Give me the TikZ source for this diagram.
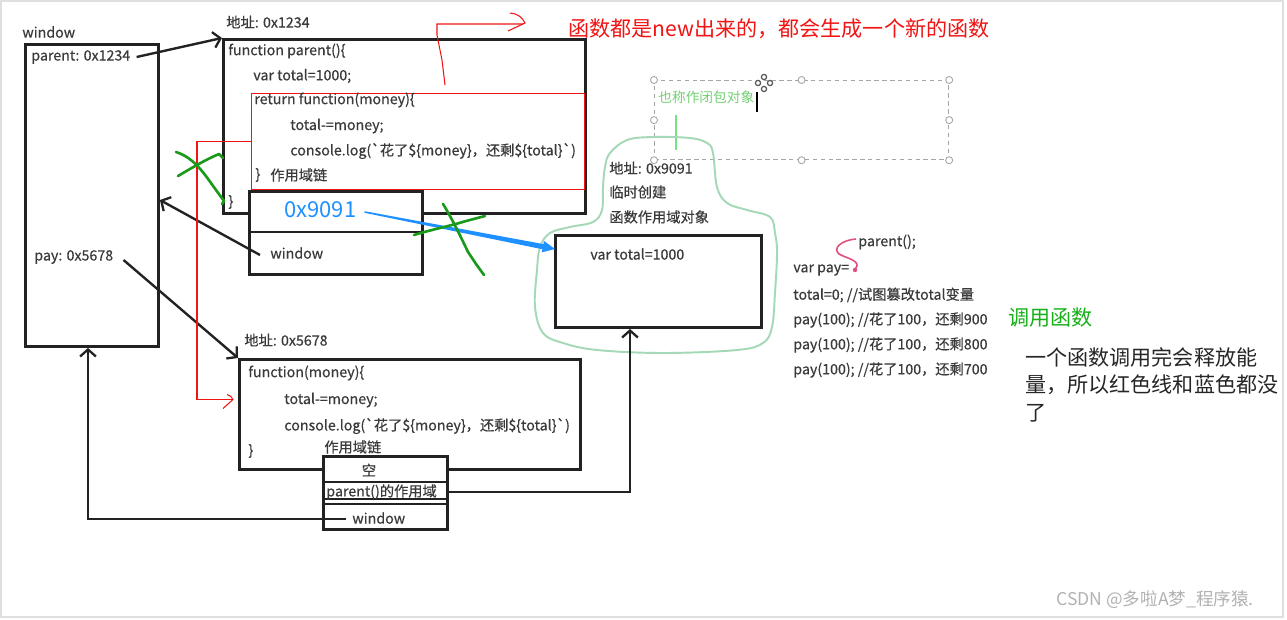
\documentclass[tikz,border=0pt]{standalone}
\usepackage{fontspec}
\newfontfamily\cjk{Noto Sans CJK SC}
\newfontfamily\cjkcode{Noto Sans CJK SC}[FakeBold=0.4]
\usetikzlibrary{arrows.meta,calc}
\definecolor{txtc}{HTML}{3A3A3A}
\definecolor{linec}{HTML}{222222}
\definecolor{redc}{HTML}{F01414}
\definecolor{bluec}{HTML}{1E90FF}
\definecolor{xgreen}{HTML}{1A9A1A}
\definecolor{lgreen}{HTML}{A4D8B6}
\definecolor{ggreen}{HTML}{18B018}
\definecolor{pinkc}{HTML}{E0507A}
\begin{document}
\begin{tikzpicture}[x=0.02cm,y=-0.02cm,
 code/.style={anchor=west,inner sep=0,text=txtc,font=\cjkcode\fontsize{8.1}{9}\selectfont},
 big/.style={anchor=west,inner sep=0,font=\cjk\fontsize{12}{14}\selectfont},
 box/.style={draw=linec,line width=1.7pt,anchor=north west,inner sep=0,fill=white},
 divider/.style={draw=linec,line width=1.6pt},
 conn/.style={draw=linec,line width=1.35pt},
 barb/.style={-{Straight Barb[length=4pt,width=9pt,line width=1.3pt]}},
 redl/.style={draw=redc,line width=0.6pt},
 xmark/.style={draw=xgreen,line width=1.5pt,line cap=round,line join=round},
 handle/.style={circle,draw=gray!70,fill=white,inner sep=0,minimum size=4pt,line width=0.5pt}
]
\useasboundingbox (0,0) rectangle (1287,619);
\fill[white] (0,0) rectangle (1287,619);
\draw[gray!25,line width=1pt] (1,1) rectangle (1283,617);

% ---------- selection rectangle ----------
\node[draw=gray!70,line width=0.7pt,dash pattern=on 2.5pt off 2pt,anchor=north west,inner sep=0,
      minimum width=5.88cm,minimum height=1.58cm] (sel) at (654,80) {};
\foreach \a in {north west,north,north east,west,east,south west,south,south east}
  \node[handle] at (sel.\a) {};
\node[anchor=west,inner sep=0,text=ggreen!60,font=\cjk\fontsize{7.8}{9}\selectfont] (alias) at (658,97) {也称作闭包对象};
\coordinate (mv) at (764,83);
\foreach \dx/\dy in {0/-6,6/0,0/6,-6/0}
  \draw[black!65,line width=0.7pt] ($(mv)+(\dx,\dy)$) circle (2.6);
\draw[black,line width=0.8pt] (757,92) -- (757,112);
\draw[lgreen!70!green,line width=0.9pt] (676,115) -- (676,150);

% ---------- cloud ----------
\draw[lgreen,line width=1.1pt] plot[smooth cycle,tension=0.6] coordinates {
 (610,153) (627,140) (653,137) (690,138) (707,143) (713,153) (717,187) (727,203)
 (747,210) (770,217) (775,233) (777,253) (775,293) (772,327) (763,343) (737,350)
 (663,353) (597,350) (563,343) (543,333) (535,307) (537,270) (540,247) (550,233)
 (570,227) (593,222) (602,210) (603,187) (605,167)};

% ---------- boxes ----------
\node[box,minimum width=2.66cm,minimum height=6.04cm] (win) at (24,43) {};
\node[box,minimum width=7.24cm,minimum height=3.48cm] (fpar) at (222,38) {};
\node[box,draw=redc,line width=0.7pt,fill=none,minimum width=6.66cm,minimum height=1.92cm] (redbox) at (251,93) {};
\node[box,minimum width=3.46cm,minimum height=1.66cm] (sc1) at (248,190) {};
\draw[divider] (sc1.west |- 0,232) -- (sc1.east |- 0,232);
\node[box,minimum width=6.82cm,minimum height=2.2cm] (fbot) at (238,358) {};
\node[box,minimum width=2.48cm,minimum height=1.46cm] (sc2) at (322,455) {};
\draw[divider] (sc2.west |- 0,482) -- (sc2.east |- 0,482);
\draw[divider,line width=0.7pt] (sc2.west |- 0,499) -- (sc2.east |- 0,499);
\draw[divider,line width=1.2pt] (sc2.west |- 0,504) -- (sc2.east |- 0,504);
\node[box,minimum width=4.12cm,minimum height=1.84cm] (varbox) at (554,234) {};

% ---------- texts ----------
\node[code] (winlbl) at (22,32) {window};
\node[code] (parlbl) at (31,57) {parent: 0x1234};
\node[code] (paylbl) at (34,257) {pay: 0x5678};

\node[code] (a1) at (226,22) {地址: 0x1234};
\node[code] (p1) at (228,51) {function parent()\{};
\node[code] (p2) at (253,76) {var total=1000;};
\node[code] (p3) at (254,100) {return function(money)\{};
\node[code] (p4) at (290,126) {total-=money;};
\node[code] (p5) at (290,151) {console.log(`花了\$\{money\}，还剩\$\{total\}`)};
\node[code] (p6) at (255,175) {\}};
\node[code] (p6b) at (270,175) {作用域链};
\node[code] (p7) at (228,202) {\}};

\node[anchor=west,inner sep=0,text=bluec,font=\cjk\fontsize{12.5}{14}\selectfont] (addr) at (284,210) {0x9091};
\node[code] (sc1win) at (270,253) {window};

\node[code] (a2) at (244,340) {地址: 0x5678};
\node[code] (b1) at (248,373) {function(money)\{};
\node[code] (b2) at (284,400) {total-=money;};
\node[code] (b3) at (284,426) {console.log(`花了\$\{money\}，还剩\$\{total\}`)};
\node[code] (b4) at (248,451) {\}};
\node[code] (b5) at (324,447) {作用域链};

\node[code,anchor=center] (sc2e) at (369,470) {空};
\node[code] (sc2par) at (326,492) {parent()的作用域};
\node[code] (sc2win) at (352,518) {window};

\node[code] (c1) at (609,168) {地址: 0x9091};
\node[code] (c2) at (609,192) {临时创建};
\node[code] (c3) at (609,217) {函数作用域对象};
\node[code] (v1) at (590,254) {var total=1000};

\node[code] (r0) at (858,242) {parent();};
\node[code] (r1) at (793,270) {var pay=};
\node[code] (r2) at (793,295) {total=0; //试图篡改total变量};
\node[code] (r3) at (793,320) {pay(100); //花了100，还剩900};
\node[code] (r4) at (793,345) {pay(100); //花了100，还剩800};
\node[code] (r5) at (793,370) {pay(100); //花了100，还剩700};

\node[big,text=redc] (title) at (568,29) {函数都是new出来的，都会生成一个新的函数};
\node[big,text=ggreen] (call) at (1008,318) {调用函数};
\node[anchor=north west,inner sep=0,text=black!85,align=left,font=\cjk\fontsize{12}{15.6}\selectfont] (expl) at (1025,347) {一个函数调用完会释放能\\量，所以红色线和蓝色都没\\了};
\node[anchor=west,inner sep=0,text=gray!60,font=\cjk\fontsize{10}{12}\selectfont] (wm) at (1056,600) {CSDN @多啦A梦\_程序猿.};

% ---------- connectors ----------
\draw[conn,barb] ($(parlbl.east)+(6,0)$) -- (fpar.north west);
\draw[conn,barb] ($(sc1win.west)+(-10,2)$) -- ($(win.north east)+(0,157)$);
\draw[conn,barb] ($(paylbl.east)+(10,3)$) -- (fbot.north west);
\draw[conn,barb] (sc2.east |- sc2par) -| ($(varbox.south west)+(76,0)$);
\draw[conn,barb] ($(sc2win.west)+(-6,1)$) -| ($(win.south west)+(64,0)$);

% blue tapered arrow
\coordinate (bs) at ($(addr.east)+(8,2)$);
\coordinate (be) at ($(varbox.north west)+(1,15)$);
\coordinate (bh) at ($(be)!7pt!(bs)$);
\fill[bluec] ($(bs)!0.45pt!90:(be)$) -- ($(bh)!1.5pt!90:(be)$) -- ($(bh)!3.3pt!90:(be)$) -- (be)
  -- ($(bh)!3.3pt!-90:(be)$) -- ($(bh)!1.5pt!-90:(be)$) -- ($(bs)!0.45pt!-90:(be)$) -- cycle;

% red hand-drawn arrows
\coordinate (rl) at ($(fbot.west)+(-5,-15)$);
\draw[redl] (redbox.west) -- ++(-54,0) |- (rl);
\draw[redl] ($(rl)+(-6,-5)$) to[bend left=25] (rl) -- ($(rl)+(-10,9)$);
\coordinate (rt0) at ($(fpar.north west)+(223,47)$);
\coordinate (rt1) at ($(title.west)+(-45,-5)$);
\draw[redl] (rt0) -- ($(rt0)+(-3,-25)$) -- ($(rt0)+(-8,-50)$) |- (rt1);
\draw[redl] ($(rt1)+(-13,-11)$) to[bend left=30] ($(rt1)+(2,-1)$) -- ($(rt1)+(-15,7)$);

% green crosses
\draw[xmark] (176,152) .. controls (195,158) and (205,175) .. (216,190) -- (224,201) -- (222,204);
\draw[xmark] (178,176) .. controls (195,166) and (205,160) .. (219,154) -- (223,158);
\draw[xmark] (443,204) .. controls (450,215) and (460,235) .. (468,252) -- (476,264) -- (484,275);
\draw[xmark] (414,235) .. controls (430,230) and (450,226) .. (466,221) -- (485,216);

% pink squiggle
\draw[pinkc,line width=0.9pt] (856,239) .. controls (842,240) and (832,248) .. (839,254)
  .. controls (846,258) and (858,260) .. (857,266) -- (854,271);
\fill[pinkc] (855,270) circle (2.2);
\end{tikzpicture}
\end{document}
